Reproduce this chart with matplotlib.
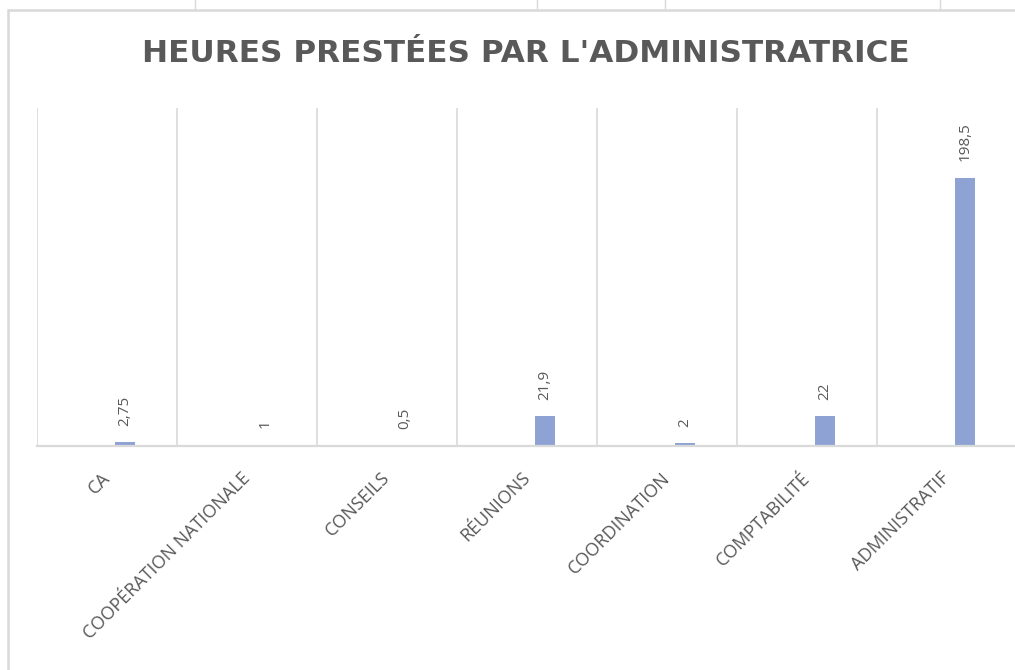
import matplotlib.pyplot as plt
from matplotlib.lines import Line2D

categories = ['CA', 'COOPÉRATION NATIONALE', 'CONSEILS', 'RÉUNIONS',
              'COORDINATION', 'COMPTABILITÉ', 'ADMINISTRATIF']
hours = [2.75, 1, 0.5, 21.9, 2, 22, 198.5]
labels = ['2,75', '1', '0,5', '21,9', '2', '22', '198,5']

grey = '#595959'
line_grey = '#d9d9d9'
bar_blue = '#8fa2d4'

plt.rcParams['font.family'] = ['Open Sans', 'DejaVu Sans']

W, H = 1015, 670
fig = plt.figure(figsize=(W / 100, H / 100), dpi=100)
ax = fig.add_axes([37 / W, (H - 446) / H, 980 / W, (446 - 108) / H])

offset = 0.13
xs = [i + offset for i in range(len(categories))]
ax.bar(xs, hours, width=0.14, color=bar_blue, zorder=3)

for x, v, lab in zip(xs, hours, labels):
    ax.annotate(lab, (x, v), xytext=(0, 12), textcoords='offset points',
                rotation=90, ha='center', va='bottom', fontsize=11, color=grey)

# category separators
for i in range(len(categories) + 1):
    ax.axvline(i - 0.5, color=line_grey, lw=1.2, zorder=1)

ax.set_xlim(-0.5, len(categories) - 0.5)
ax.set_ylim(0, 250)
ax.set_yticks([])
ax.set_xticks(range(len(categories)))
ax.set_xticklabels([])
ax.tick_params(axis='x', length=0)
for s in ['top', 'left', 'right']:
    ax.spines[s].set_visible(False)
ax.spines['bottom'].set_color(line_grey)
ax.spines['bottom'].set_linewidth(1.6)
ax.spines['bottom'].set_zorder(4)
ax.set_facecolor('none')

for i, c in enumerate(categories):
    ax.annotate(c, (i, 0), xytext=(0, -21), textcoords='offset points',
                rotation=45, rotation_mode='anchor', ha='right', va='center',
                fontsize=13, color=grey)

fig.text(526 / W, 1 - 53 / H, "HEURES PRESTÉES PAR L'ADMINISTRATRICE",
         ha='center', va='center', fontsize=22.4, fontweight='bold', color=grey,
         family='DejaVu Sans')

# chart frame (cropped screenshot edges)
fig.add_artist(Line2D([8 / W, 8 / W], [0, 1 - 10 / H], color=line_grey, lw=1.8))
fig.add_artist(Line2D([8 / W, 1], [1 - 10 / H, 1 - 10 / H], color=line_grey, lw=1.8,
                      solid_capstyle='butt'))
for tx in [195, 537, 665, 940]:
    fig.add_artist(Line2D([tx / W, tx / W], [1 - 9 / H, 1], color=line_grey, lw=1))

fig.savefig('out.png', dpi=100)
